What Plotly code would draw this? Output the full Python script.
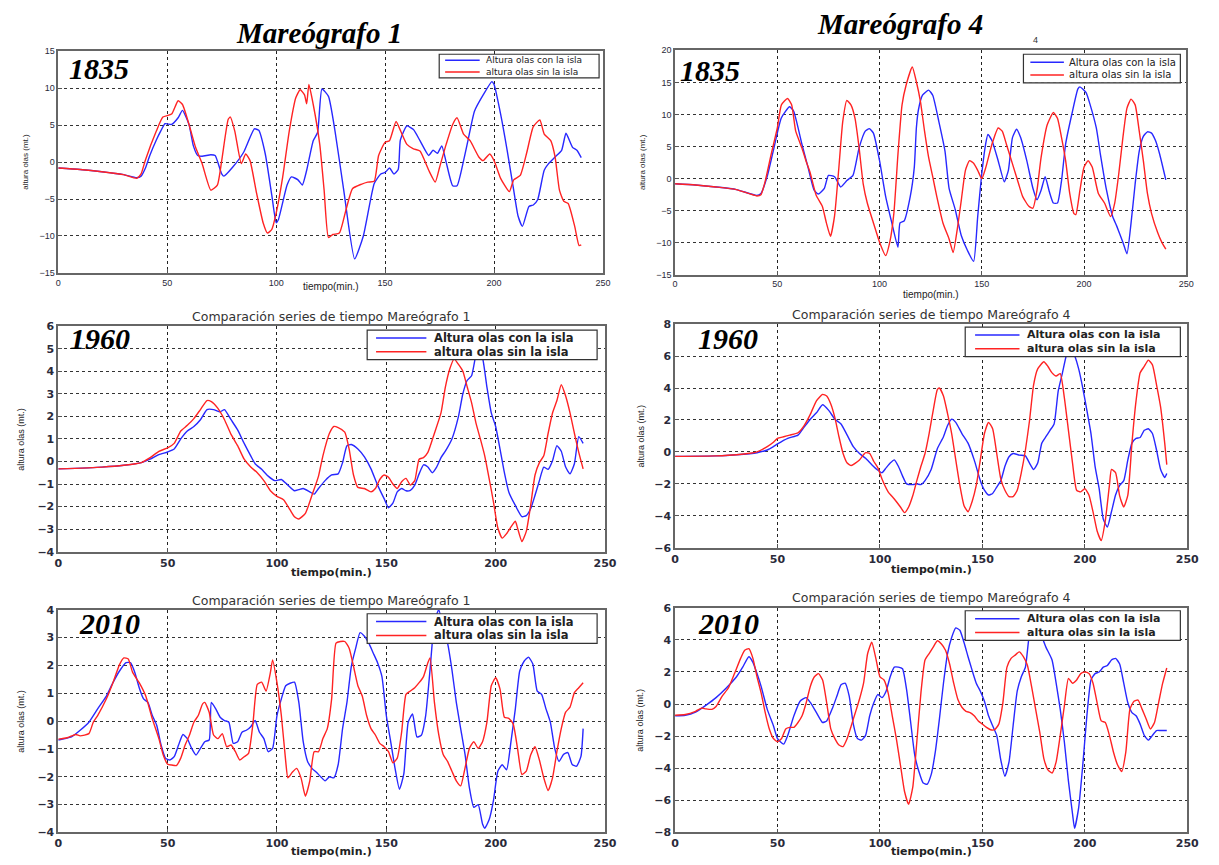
import plotly.graph_objects as go
from plotly.subplots import make_subplots

# ---------------- DATA (time in min, wave height in m) ----------------
# Mareógrafo 1, 1835
m1_1835_con = [(0,-0.8),(10,-1.0),(20,-1.3),(30,-1.7),(36,-2.1),(38,-1.9),(40,-0.8),(42,0.9),(45,3.0),(47,4.2),(49,5.2),(52,5.1),(55,6.0),(57,7.0),(60,5.1),(62,2.2),(64,0.9),(66,0.8),(70,1.0),(72,0.9),(75,-1.6),(76,-1.9),(80,-0.7),(85,1.3),(90,4.5),(92,4.3),(95,1.1),(98,-4.5),(100,-8.2),(101,-7.8),(105,-3.1),(107,-2.0),(110,-2.4),(112,-3.1),(114,-1.1),(117,2.9),(119,4.0),(121,9.9),(124,8.9),(127,4.2),(131,-3.8),(136,-13.1),(140,-10.0),(145,-2.9),(148,-1.6),(150,-1.4),(152,-0.8),(154,-1.6),(156,-1.0),(157,3.0),(160,4.9),(163,4.4),(166,2.9),(170,0.9),(172,1.6),(174,1.2),(176,2.2),(178,0.0),(181,-3.2),(183,-3.2),(186,0.2),(188,2.9),(191,6.9),(195,9.1),(199,10.9),(200,10.5),(203,6.5),(206,1.6),(209,-3.8),(211,-7.3),(213,-8.7),(216,-6.0),(218,-5.8),(220,-5.1),(223,-1.1),(225,-0.2),(228,0.7),(231,1.6),(233,3.9),(236,2.0),(238,1.6),(240,0.6)]
m1_1835_sin = [(0,-0.8),(10,-1.0),(20,-1.3),(30,-1.7),(36,-2.2),(38,-1.6),(40,0.3),(45,4.2),(48,6.1),(52,6.5),(55,8.3),(57,7.8),(60,5.1),(63,2.0),(66,-0.2),(70,-3.8),(73,-3.1),(75,0.2),(78,5.8),(79,6.1),(81,4.2),(84,-0.2),(86,1.1),(88,0.2),(91,-4.2),(94,-8.2),(96,-9.6),(98,-9.1),(100,-6.9),(103,-2.0),(106,4.2),(109,8.7),(111,9.8),(113,9.1),(114,7.9),(115,10.5),(117,7.8),(120,2.4),(122,-3.8),(124,-10.2),(126,-9.8),(129,-9.6),(132,-6.5),(135,-3.6),(139,-3.0),(142,-2.7),(145,-2.6),(147,0.9),(150,2.7),(152,2.9),(155,5.5),(157,4.3),(160,2.4),(163,1.8),(166,1.5),(170,-1.1),(173,-2.7),(175,-0.7),(178,2.4),(181,5.1),(183,6.0),(186,3.8),(189,2.9),(193,0.7),(195,0.2),(198,1.1),(200,0.2),(203,-2.2),(207,-4.0),(209,-2.4),(212,-1.8),(215,1.3),(218,4.8),(221,5.7),(223,3.8),(226,2.9),(228,0.7),(230,-3.8),(232,-5.3),(234,-5.6),(237,-8.7),(239,-11.3),(240,-11.2)]

# Mareógrafo 4, 1835
m4_1835_con = [(0,-0.8),(10,-1.0),(20,-1.3),(30,-1.7),(40,-2.6),(42,-2.3),(45,0.3),(48,4.3),(52,9.5),(56,11.2),(58,10.5),(62,5.4),(65,1.8),(68,-1.8),(70,-2.4),(73,-1.5),(75,0.5),(78,0.3),(81,-1.3),(84,-0.3),(87,0.5),(90,4.8),(93,7.4),(95,7.8),(97,7.1),(100,2.8),(103,-2.8),(106,-6.9),(109,-10.7),(110,-6.9),(112,-6.6),(115,-2.8),(117,1.8),(118,7.9),(119,10.7),(121,13.0),(124,13.8),(126,13.0),(129,8.9),(132,4.3),(134,-1.5),(137,-4.8),(140,-8.9),(143,-11.2),(146,-12.9),(148,-5.9),(150,0.8),(152,5.6),(153,6.9),(155,5.9),(158,2.8),(161,-0.5),(163,1.3),(165,6.4),(167,7.7),(169,6.4),(172,2.8),(175,-1.5),(177,-3.3),(179,-1.8),(181,0.3),(183,-2.0),(185,-3.8),(187,-3.8),(189,-0.3),(191,5.4),(194,10.0),(197,14.0),(198,14.3),(201,13.4),(203,11.5),(206,7.9),(208,3.8),(211,-1.8),(214,-5.9),(216,-7.4),(219,-9.9),(221,-11.7),(223,-6.9),(225,-0.8),(227,4.3),(229,6.6),(231,7.3),(233,7.1),(235,5.9),(237,3.8),(240,-0.2)]
m4_1835_sin = [(0,-0.8),(10,-1.0),(20,-1.3),(30,-1.7),(40,-2.7),(42,-2.5),(44,-0.5),(47,3.8),(50,7.9),(52,11.5),(55,12.5),(57,11.5),(59,7.4),(62,4.8),(64,2.8),(66,1.0),(69,-2.6),(72,-4.3),(74,-6.9),(76,-9.0),(78,-5.8),(80,1.3),(82,8.9),(84,12.2),(86,11.5),(88,9.4),(90,4.8),(92,-0.8),(94,-3.8),(97,-6.9),(100,-9.9),(103,-12.0),(105,-9.9),(107,-5.4),(109,3.8),(111,11.5),(113,14.6),(116,17.4),(118,15.1),(120,12.0),(122,7.4),(124,3.3),(126,0.3),(128,-2.8),(131,-6.9),(134,-9.4),(136,-11.5),(138,-7.9),(140,-3.3),(142,1.3),(144,2.8),(146,2.4),(148,1.3),(150,0.0),(152,1.8),(155,5.4),(158,7.9),(160,7.4),(162,5.4),(165,2.3),(168,-0.8),(170,-2.8),(173,-4.3),(175,-4.6),(177,-1.8),(179,3.3),(182,8.4),(185,10.3),(187,9.4),(189,6.4),(191,2.8),(193,-2.3),(195,-5.4),(196,-5.6),(198,-1.8),(200,1.8),(202,2.8),(204,1.8),(207,-2.3),(210,-3.8),(213,-5.9),(215,-3.8),(217,0.8),(219,6.4),(221,11.0),(223,12.4),(225,11.5),(227,7.4),(229,2.8),(231,-2.3),(233,-5.4),(236,-8.4),(238,-9.9),(240,-11.0)]

# Mareógrafo 1, 1960
m1_1960_con = [(0,-0.33),(20,-0.25),(30,-0.17),(38,-0.05),(42,0.1),(46,0.3),(50,0.42),(53,0.55),(56,1.0),(59,1.35),(62,1.55),(65,1.85),(68,2.3),(71,2.3),(74,2.2),(76,2.3),(79,1.85),(82,1.4),(85,0.8),(88,0.25),(90,-0.1),(93,-0.35),(96,-0.65),(99,-0.85),(102,-0.8),(105,-1.05),(108,-1.3),(110,-1.25),(112,-1.2),(115,-1.35),(117,-1.45),(119,-1.2),(122,-0.85),(125,-0.6),(128,-0.55),(130,-0.05),(132,0.7),(134,0.75),(137,0.55),(140,0.2),(143,-0.33),(146,-1.05),(149,-1.65),(151,-2.05),(153,-1.85),(155,-1.35),(157,-1.2),(159,-1.3),(161,-1.28),(163,-1.05),(165,-0.55),(167,-0.15),(169,-0.25),(171,-0.5),(173,-0.25),(175,0.17),(177,0.46),(180,1.0),(183,2.0),(185,3.0),(187,3.6),(189,3.8),(191,4.75),(192,5.0),(194,4.6),(196,3.3),(198,2.15),(200,1.55),(202,0.55),(204,-0.5),(206,-1.35),(209,-1.95),(212,-2.45),(214,-2.4),(216,-2.1),(218,-1.5),(220,-0.85),(222,-0.25),(224,-0.35),(226,0.03),(228,0.7),(230,0.45),(232,-0.25),(234,-0.55),(236,-0.1),(238,1.1),(240,0.8)]
m1_1960_sin = [(0,-0.33),(20,-0.25),(30,-0.17),(38,-0.05),(42,0.17),(46,0.45),(50,0.6),(53,0.8),(56,1.35),(59,1.6),(62,1.9),(65,2.3),(68,2.7),(70,2.65),(73,2.35),(76,1.85),(79,1.2),(82,0.7),(85,0.1),(88,-0.25),(91,-0.5),(94,-0.85),(97,-1.3),(100,-1.55),(103,-1.7),(106,-2.15),(108,-2.45),(110,-2.55),(113,-2.3),(116,-1.5),(119,-0.65),(121,0.25),(124,1.25),(126,1.55),(128,1.5),(131,1.3),(133,0.55),(135,-0.6),(137,-1.15),(140,-1.2),(143,-1.35),(145,-1.2),(147,-0.8),(149,-0.6),(151,-0.7),(153,-1.0),(155,-1.2),(157,-0.9),(159,-0.75),(161,-1.05),(163,-0.85),(165,0.1),(167,0.17),(169,0.4),(172,1.25),(175,2.15),(177,3.3),(179,4.1),(181,4.55),(183,4.3),(185,4.0),(187,3.3),(189,2.6),(191,1.7),(193,1.0),(195,0.25),(197,-0.75),(199,-1.8),(201,-2.95),(203,-3.4),(205,-3.2),(207,-2.9),(209,-2.65),(210,-2.95),(212,-3.55),(214,-3.1),(216,-1.95),(218,-0.6),(220,-0.05),(222,0.25),(224,1.25),(226,2.15),(228,2.7),(230,3.4),(232,2.9),(234,2.15),(236,1.25),(238,0.4),(240,-0.33)]

# Mareógrafo 4, 1960
m4_1960_con = [(0,-0.28),(20,-0.25),(30,-0.18),(40,-0.05),(45,0.12),(48,0.33),(50,0.5),(55,0.85),(60,1.05),(63,1.55),(66,2.05),(69,2.45),(72,2.95),(75,2.6),(78,2.05),(81,1.75),(84,1.05),(87,0.33),(90,-0.1),(93,-0.4),(96,-0.8),(99,-1.15),(101,-1.3),(103,-1.0),(105,-0.7),(107,-0.5),(109,-0.9),(111,-1.5),(113,-2.0),(116,-2.05),(118,-2.0),(120,-2.05),(122,-1.8),(125,-1.1),(128,0.2),(131,0.95),(133,1.65),(135,2.05),(137,1.85),(140,1.15),(143,0.55),(146,-0.5),(149,-1.8),(151,-2.4),(153,-2.7),(155,-2.6),(157,-2.2),(159,-1.8),(161,-0.9),(163,-0.3),(165,-0.1),(168,-0.2),(171,-0.25),(173,-0.7),(175,-1.1),(177,-0.7),(179,0.55),(181,0.95),(183,1.35),(185,1.75),(187,3.8),(189,4.9),(191,6.05),(193,6.65),(195,6.05),(197,5.2),(199,4.0),(201,2.6),(203,1.15),(205,-0.9),(207,-2.3),(209,-4.2),(211,-4.7),(213,-3.75),(215,-2.7),(217,-2.1),(219,-1.8),(221,-0.5),(223,0.55),(225,0.85),(227,0.9),(229,1.35),(231,1.45),(233,1.15),(235,0.12),(237,-1.1),(239,-1.6),(240,-1.35)]
m4_1960_sin = [(0,-0.28),(20,-0.25),(30,-0.18),(40,0.0),(45,0.33),(48,0.6),(50,0.85),(53,0.95),(56,1.05),(60,1.2),(63,1.65),(66,2.35),(69,3.2),(72,3.6),(74,3.5),(76,3.0),(78,2.15),(80,0.95),(82,-0.1),(84,-0.7),(86,-0.85),(88,-0.7),(90,-0.5),(93,-0.05),(95,-0.1),(97,-0.6),(99,-1.0),(101,-1.7),(104,-2.5),(107,-2.95),(110,-3.45),(112,-3.8),(114,-3.45),(116,-2.75),(118,-1.8),(120,-0.9),(122,-0.1),(124,1.15),(126,2.6),(128,3.9),(129,4.0),(131,3.5),(133,2.4),(135,1.15),(137,-0.5),(139,-2.1),(141,-3.35),(143,-3.75),(145,-3.1),(147,-2.1),(149,-0.5),(151,1.15),(153,1.85),(155,1.45),(157,-0.1),(159,-1.7),(161,-2.4),(163,-2.8),(165,-2.8),(167,-2.4),(169,-1.3),(171,0.12),(173,1.95),(175,4.2),(177,5.2),(180,5.65),(182,5.35),(184,4.95),(186,4.75),(188,4.9),(190,3.4),(192,1.35),(194,-0.7),(196,-2.4),(198,-2.5),(200,-2.3),(202,-2.7),(204,-3.75),(206,-4.95),(208,-5.55),(210,-4.3),(212,-2.1),(213,-1.1),(215,-1.3),(217,-2.75),(219,-3.45),(221,-2.7),(223,0.55),(225,3.2),(227,4.95),(229,5.35),(231,5.75),(233,5.45),(235,4.2),(237,2.8),(239,0.55),(240,-0.8)]

# Mareógrafo 1, 2010
m1_2010_con = [(0,-0.68),(3,-0.63),(6,-0.57),(10,-0.33),(14,-0.04),(18,0.44),(22,0.9),(25,1.38),(28,1.8),(31,2.1),(33,2.1),(35,1.75),(37,1.2),(39,0.8),(41,0.67),(43,0.2),(45,-0.15),(47,-0.86),(49,-1.33),(51,-1.4),(53,-1.28),(55,-0.86),(57,-0.48),(59,-0.63),(61,-0.98),(63,-1.22),(65,-0.98),(67,-0.74),(69,-0.68),(70,0.67),(72,0.44),(74,0.14),(76,0.02),(78,-0.04),(80,-0.8),(82,-0.74),(84,-0.4),(86,-0.33),(88,-0.2),(90,0.02),(92,-0.4),(94,-0.63),(96,-1.1),(98,-0.98),(100,0.2),(102,0.8),(104,1.27),(106,1.36),(108,1.4),(110,0.67),(112,-0.74),(114,-1.45),(116,-1.7),(118,-1.84),(120,-2.0),(122,-2.15),(124,-2.0),(126,-2.04),(128,-1.56),(130,-0.27),(132,0.67),(134,1.97),(136,2.62),(138,3.18),(140,3.05),(142,2.8),(144,2.45),(146,2.1),(148,1.6),(150,0.2),(152,-0.74),(154,-1.7),(156,-2.45),(158,-1.9),(160,-0.04),(162,0.26),(164,-0.57),(166,-0.51),(168,0.2),(170,1.85),(172,3.57),(174,4.0),(176,3.3),(178,2.8),(180,1.85),(182,0.67),(184,-0.27),(186,-1.2),(188,-2.4),(190,-3.1),(192,-3.0),(194,-3.7),(195,-3.85),(197,-3.55),(199,-2.85),(201,-1.8),(203,-1.57),(205,-1.75),(207,-0.74),(209,0.44),(211,1.8),(213,2.15),(215,2.3),(217,2.05),(219,1.08),(221,0.96),(223,0.44),(225,-0.04),(227,-0.98),(229,-1.45),(231,-1.2),(233,-1.13),(235,-1.56),(237,-1.62),(239,-1.27),(240,-0.27)]
m1_2010_sin = [(0,-0.65),(4,-0.6),(8,-0.48),(10,-0.53),(14,-0.45),(16,-0.04),(18,0.2),(22,0.8),(25,1.38),(28,2.03),(30,2.27),(32,2.23),(34,1.75),(37,1.38),(40,0.9),(43,0.08),(46,-0.63),(48,-1.22),(50,-1.55),(52,-1.58),(54,-1.6),(56,-1.33),(58,-0.86),(60,-0.5),(62,-0.04),(64,0.2),(66,0.62),(67,0.67),(69,0.32),(71,-0.5),(73,-0.63),(75,-0.45),(77,-0.92),(79,-0.86),(81,-1.1),(83,-1.4),(85,-1.28),(87,-1.16),(89,-0.1),(91,1.32),(93,1.4),(95,1.08),(97,1.75),(98,2.2),(100,1.38),(102,0.2),(104,-1.45),(105,-2.04),(107,-1.84),(109,-1.7),(111,-2.04),(113,-2.7),(115,-2.15),(117,-1.1),(119,-1.1),(121,-0.63),(123,-0.27),(125,0.8),(127,2.8),(129,2.86),(131,2.86),(133,2.62),(135,1.97),(137,1.27),(139,0.9),(141,0.2),(143,-0.27),(145,-0.5),(147,-0.8),(149,-0.92),(151,-1.1),(153,-1.5),(155,-1.33),(157,-0.4),(159,0.96),(161,1.08),(163,1.2),(165,1.38),(167,1.6),(169,2.1),(170,2.27),(172,0.67),(174,-0.5),(176,-1.2),(178,-1.45),(180,-1.8),(182,-2.15),(184,-2.33),(186,-1.68),(188,-0.98),(190,-0.74),(192,-0.98),(194,-0.74),(196,-0.04),(198,1.27),(200,1.56),(202,1.15),(204,0.14),(206,0.1),(208,-0.1),(210,-0.98),(212,-1.92),(214,-1.8),(216,-1.22),(218,-0.92),(220,-1.4),(222,-2.04),(224,-2.5),(226,-2.04),(228,-1.1),(230,-0.27),(232,0.32),(234,0.5),(236,1.02),(238,1.2),(240,1.38)]

# Mareógrafo 4, 2010
m4_2010_con = [(0,-0.73),(5,-0.7),(10,-0.5),(15,-0.08),(20,0.4),(25,1.0),(30,1.7),(33,2.3),(36,2.95),(38,2.6),(40,1.9),(42,1.1),(45,-0.33),(48,-1.35),(50,-2.15),(53,-2.5),(55,-1.95),(58,-0.73),(61,0.18),(64,0.4),(66,0.1),(69,-0.53),(72,-1.15),(74,-1.05),(77,-0.2),(79,0.5),(81,1.2),(83,1.3),(85,0.5),(87,-1.25),(89,-2.15),(91,-2.25),(93,-1.95),(95,-0.73),(97,0.08),(99,0.6),(101,0.4),(103,0.8),(105,1.7),(107,2.3),(109,2.3),(111,2.2),(113,0.9),(115,-1.15),(117,-3.2),(119,-4.2),(121,-4.9),(123,-5.0),(125,-4.4),(127,-3.0),(129,-0.95),(131,1.3),(133,3.15),(135,4.15),(137,4.75),(139,4.6),(141,3.85),(143,2.95),(145,2.1),(147,1.3),(149,0.8),(151,0.18),(153,-0.73),(155,-1.35),(157,-1.95),(159,-3.5),(161,-4.5),(163,-3.6),(165,-1.35),(167,0.8),(169,1.7),(171,2.3),(173,4.35),(175,4.9),(178,4.5),(181,3.55),(184,2.75),(186,1.3),(188,-0.33),(190,-2.35),(192,-4.8),(194,-6.85),(195,-7.75),(197,-6.45),(199,-3.8),(201,-0.73),(203,1.5),(205,1.9),(207,2.0),(209,2.3),(211,2.4),(213,2.75),(215,2.85),(217,2.5),(219,1.3),(221,0.08),(223,-0.53),(225,-0.73),(227,-1.25),(229,-1.95),(231,-2.25),(233,-1.95),(235,-1.65),(237,-1.65),(240,-1.65)]
m4_2010_sin = [(0,-0.7),(5,-0.65),(10,-0.45),(13,-0.25),(15,-0.3),(18,-0.33),(20,-0.15),(23,0.5),(26,1.0),(29,1.9),(32,2.85),(34,3.35),(36,3.45),(38,2.85),(40,1.7),(42,0.7),(44,-0.53),(46,-1.55),(48,-2.15),(50,-2.35),(52,-2.15),(54,-1.55),(56,-1.45),(58,-1.45),(60,-1.15),(62,-0.73),(64,0.08),(66,1.1),(68,1.7),(70,1.9),(72,1.5),(74,0.08),(76,-1.55),(78,-2.15),(80,-2.55),(82,-2.65),(84,-2.15),(86,-1.35),(88,-0.53),(90,0.3),(92,1.3),(94,3.15),(96,3.85),(98,2.85),(100,1.7),(102,1.5),(104,0.7),(106,-0.73),(108,-2.15),(110,-3.8),(112,-5.45),(114,-6.25),(116,-5.2),(118,-2.35),(120,0.7),(122,2.75),(124,3.15),(126,3.55),(128,3.95),(130,3.75),(132,3.35),(134,2.5),(136,1.3),(138,0.3),(140,-0.2),(142,-0.45),(144,-0.53),(146,-0.73),(148,-1.05),(150,-1.25),(152,-1.45),(154,-1.6),(156,-1.6),(158,-1.25),(160,0.08),(162,2.3),(164,2.85),(166,3.05),(168,3.25),(170,2.95),(172,2.4),(174,1.1),(176,-0.33),(178,-1.75),(180,-3.4),(182,-4.1),(184,-4.3),(186,-3.6),(188,-1.95),(190,-0.12),(192,1.6),(194,1.3),(196,1.5),(198,1.9),(200,2.0),(202,1.9),(204,1.3),(206,0.08),(208,-1.05),(210,-1.15),(212,-1.95),(214,-3.0),(216,-3.8),(218,-4.2),(220,-3.0),(222,-0.33),(224,0.18),(226,0.25),(228,-0.33),(230,-0.95),(232,-1.55),(234,-1.15),(236,0.08),(238,1.3),(240,2.25)]

years = ["1835", "1960", "2010"]
station_titles = ["Mareógrafo 1", "Mareógrafo 4"]
legend_names = ["Altura olas con la isla", "altura olas sin la isla"]
sub_titles = ["Comparación series de tiempo Mareógrafo 1", "Comparación series de tiempo Mareógrafo 4"]
x_ticks = [0, 50, 100, 150, 200, 250]
y_ranges = [(-15, 15, 5), (-15, 20, 5), (-4, 6, 1), (-6, 8, 2), (-4, 4, 1), (-8, 6, 2)]
series = [(m1_1835_con, m1_1835_sin), (m4_1835_con, m4_1835_sin),
          (m1_1960_con, m1_1960_sin), (m4_1960_con, m4_1960_sin),
          (m1_2010_con, m1_2010_sin), (m4_2010_con, m4_2010_sin)]

# ---------------- LAYOUT (pixel geometry) ----------------
W, H = 1219, 865
BLUE = "rgb(40,40,255)"
RED = "rgb(255,35,35)"
SANS = "DejaVu Sans"

def px(x):
    return x / W

def py(y):
    return 1 - y / H

# plot boxes: left, top, right, bottom (pixels)
boxes = [(55, 46, 607, 271), (680, 45, 1198, 273),
         (55, 325, 609, 554), (680, 323, 1199, 550),
         (55, 613, 609, 839), (680, 611, 1199, 839)]
# legend geometry: box(l,t,r,b), line x0,x1, text x, row y1,y2, font size
legends = [((441, 49, 603, 73), 447, 482, 486, 55, 67, 9),
           ((1033, 49, 1192, 78), 1040, 1074, 1077, 57, 70, 10),
           ((368, 329, 601, 359), 377, 428, 434, 337, 351, 11.5),
           ((974, 326, 1192, 356), 984, 1029, 1035, 334, 348, 11),
           ((368, 617, 601, 647), 377, 428, 434, 625, 639, 11.5),
           ((974, 614, 1192, 644), 984, 1029, 1035, 622, 636, 11)]
year_pos = [(96, 63), (715, 65), (97, 338), (734, 338), (107, 627), (734, 627)]
ytitle_x = [21, 647, 17, 645, 17, 645]
xtitle_y = [285, 293, 575, 572, 858, 858]
subtitle_y = [None, None, 315, 313, 604, 601]

fig = make_subplots(rows=3, cols=2)

shapes = []
annotations = []

def note(x, y, text, font, **kw):
    d = dict(x=px(x), y=py(y), xref="paper", yref="paper", text=text, showarrow=False,
             xanchor="center", yanchor="middle", font=font)
    d.update(kw)
    annotations.append(d)

for i, (con, sin) in enumerate(series):
    r, c = i // 2 + 1, i % 2 + 1
    for data, col, name in ((con, BLUE, legend_names[0]), (sin, RED, legend_names[1])):
        fig.add_trace(go.Scatter(x=[p[0] for p in data], y=[p[1] for p in data], mode="lines",
                                 name=name, showlegend=False,
                                 line=dict(color=col, width=1.4, shape="spline", smoothing=0.5)),
                      row=r, col=c)
    l, t, rr, b = boxes[i]
    big = i >= 2
    tfont = dict(family=SANS if big else "Arial", size=11 if big else 9, color="#2a2a3a",
                 weight="bold" if big else "normal")
    y0, y1, dy = y_ranges[i]
    xa = "xaxis" + ("" if i == 0 else str(i + 1))
    ya = "yaxis" + ("" if i == 0 else str(i + 1))
    fig.update_layout({
        xa: dict(domain=[px(l), px(rr)], range=[0, 250], tickvals=x_ticks,
                 showgrid=True, gridcolor="#222", griddash="dot", gridwidth=1,
                 showline=True, mirror=True, linecolor="#666", linewidth=1.6,
                 ticks="inside", ticklen=4, tickcolor="#555", tickfont=tfont, zeroline=False),
        ya: dict(domain=[py(b), py(t)], range=[y0, y1], tickvals=list(range(y0, y1 + 1, dy)),
                 showgrid=True, gridcolor="#333", griddash="3px,3px", gridwidth=1,
                 showline=True, mirror=True, linecolor="#666", linewidth=1.6,
                 ticks="inside", ticklen=4, tickcolor="#555", tickfont=tfont, zeroline=False),
    })
    # legend box
    (bl, bt, br, bb), lx0, lx1, tx, ry1, ry2, fs = legends[i]
    shapes.append(dict(type="rect", xref="paper", yref="paper", x0=px(bl), x1=px(br),
                       y0=py(bb), y1=py(bt), fillcolor="white", line=dict(color="#333", width=1.2)))
    for ry, col, name in ((ry1, BLUE, legend_names[0]), (ry2, RED, legend_names[1])):
        shapes.append(dict(type="line", xref="paper", yref="paper", x0=px(lx0), x1=px(lx1),
                           y0=py(ry), y1=py(ry), line=dict(color=col, width=1.5)))
        note(tx, ry, name, dict(family=SANS, size=fs, color="#222",
                                weight="bold" if big else "normal"), xanchor="left")
    # year label
    yx, yy = year_pos[i]
    note(yx, yy, "<b><i>%s</i></b>" % years[i // 2],
         dict(family="Liberation Serif", size=30, color="black"))
    # axis titles
    note(ytitle_x[i], (t + b) / 2, "altura olas (mt.)",
         dict(family="Arial", size=9 if big else 8, color="#222"), textangle=-90)
    note((l + rr) / 2, xtitle_y[i], "tiempo(min.)",
         dict(family=SANS if big else "Arial", size=11 if big else 10, color="#222",
              weight="bold" if big else "normal"))
    if subtitle_y[i] is not None:
        note((l + rr) / 2, subtitle_y[i], sub_titles[i % 2],
             dict(family=SANS, size=12.5, color="#333"))

# station titles
note(319, 27, "<b><i>%s</i></b>" % station_titles[0],
     dict(family="Liberation Serif", size=29, color="black"))
note(908, 18, "<b><i>%s</i></b>" % station_titles[1],
     dict(family="Liberation Serif", size=29, color="black"))
note(1045, 35, "4", dict(family="Arial", size=9, color="#333"))

fig.update_layout(width=W, height=H, margin=dict(l=0, r=0, t=0, b=0),
                  paper_bgcolor="white", plot_bgcolor="white", showlegend=False,
                  shapes=shapes, annotations=annotations)
fig.write_html("out.html", config={"displayModeBar": False},
               post_script="document.body.style.margin='0px';document.body.style.overflow='hidden';")
